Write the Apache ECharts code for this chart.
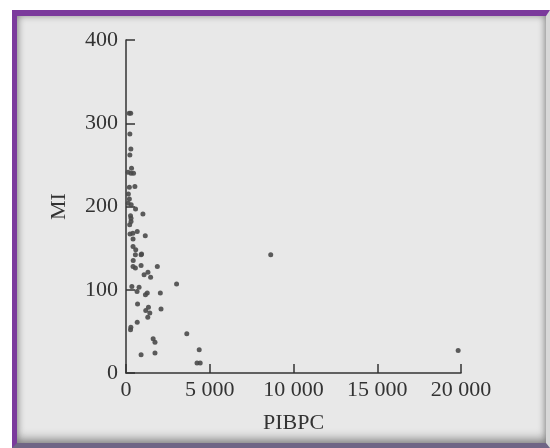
<!DOCTYPE html>
<html>
<head>
<meta charset="utf-8">
<script src="https://cdn.jsdelivr.net/npm/echarts@6/dist/echarts.min.js"></script>
<style>
html,body{margin:0;padding:0;background:#fff;width:550px;height:448px;overflow:hidden;}
#frame{position:absolute;left:12px;top:10px;width:538px;height:438px;box-sizing:border-box;
 border-top:6px solid #7b3a9c;border-left:5px solid #7b3a9c;border-bottom:5px solid #6f6585;border-right:4px solid #d8d8d8;
 background:#e8e8e8;box-shadow:inset 0 0 7px rgba(0,0,0,0.35), inset 0 -6px 8px rgba(0,0,0,0.25);}
#chart{position:absolute;left:0;top:0;width:550px;height:448px;}
</style>
</head>
<body>
<div id="frame"></div>
<div id="chart"></div>
<script>
const pibpc = [1870,130,310,570,2050,200,670,300,120,290,
  1180,900,1730,1150,1160,1270,580,660,420,1080,
  290,270,560,4240,240,430,3020,1420,420,19830,
  420,530,8640,350,230,1620,190,2090,900,230,
  140,330,1010,300,1730,780,1300,930,690,200,
  450,280,4430,270,1340,670,410,4370,1310,1470,
  300,3630,220,560,900];
const mi = [128,204,202,197,96,209,170,240,241,55,
  75,129,24,165,94,96,148,98,161,118,
  269,189,126,12,167,135,107,72,128,27,
  152,224,142,104,287,41,312,77,142,262,
  215,246,191,182,37,103,67,143,83,223,
  240,312,12,52,79,61,168,28,121,115,
  186,47,178,142,22];
const xTicks = [0,5000,10000,15000,20000];
const yTicks = [0,100,200,300,400];

const chart = echarts.init(document.getElementById('chart'), null, {renderer:'canvas'});
const font = '"Liberation Serif", "DejaVu Serif", serif';
const fmt = v => { const s = String(v); return s.length > 3 ? s.slice(0, s.length-3) + ' ' + s.slice(-3) : s; };
chart.setOption({
  backgroundColor: 'transparent',
  animation: false,
  grid: {left:126, top:40, right:89, bottom:75, containLabel:false},
  xAxis: {
    type:'value', min:xTicks[0], max:xTicks[xTicks.length-1], interval:5000,
    name:'PIBPC', nameLocation:'middle', nameGap:39,
    nameTextStyle:{fontFamily:font, fontSize:22, color:'#333'},
    axisLine:{show:true, lineStyle:{color:'#333', width:1.5}},
    axisTick:{show:true, inside:true, length:9, lineStyle:{color:'#333', width:1.5}},
    axisLabel:{fontFamily:font, fontSize:22, color:'#333', margin:6, formatter:fmt},
    splitLine:{show:false}
  },
  yAxis: {
    type:'value', min:yTicks[0], max:yTicks[yTicks.length-1], interval:100,
    name:'MI', nameLocation:'middle', nameGap:56,
    nameTextStyle:{fontFamily:font, fontSize:22, color:'#333'},
    axisLine:{show:true, lineStyle:{color:'#333', width:1.5}},
    axisTick:{show:true, inside:true, length:9, lineStyle:{color:'#333', width:1.5}},
    axisLabel:{fontFamily:font, fontSize:22, color:'#333', margin:8},
    splitLine:{show:false}
  },
  series: [{
    type:'scatter',
    data: pibpc.map((x,i)=>[x, mi[i]]),
    symbol:'circle', symbolSize:5,
    itemStyle:{color:'#4a4a4a', opacity:0.9}
  }]
});
</script>
</body>
</html>
